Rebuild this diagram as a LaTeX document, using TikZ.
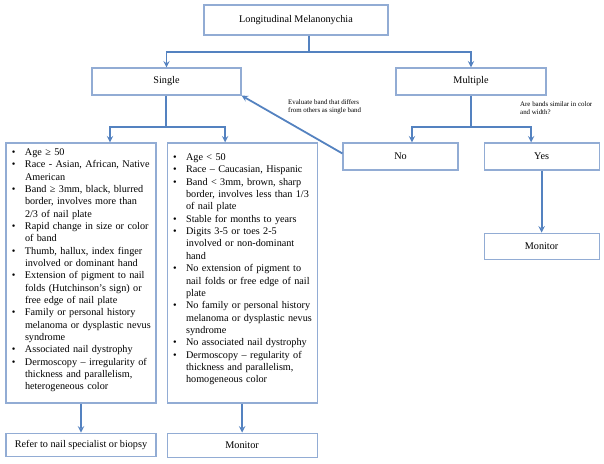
\documentclass[tikz,border=0pt]{standalone}
\usepackage{fontspec}
\setmainfont{Liberation Serif}
\usetikzlibrary{positioning, arrows}
\definecolor{boxline}{RGB}{146,172,212}
\definecolor{arrowline}{RGB}{84,130,192}
\tikzstyle{box} = [rectangle, draw=boxline, line width=1.1pt, text centered, inner sep=0pt, font=\fontsize{10.2}{12}\selectfont]
\tikzstyle{listbox} = [rectangle, draw=boxline, line width=1.1pt, text width=148pt, align=left, inner xsep=1pt, inner ysep=0pt, font=\fontsize{10.2}{12.35}\selectfont]
\tikzstyle{note} = [anchor=north west, align=left, inner sep=0pt, font=\fontsize{6.9}{8.3}\selectfont]
\tikzstyle{line} = [line width=1.8pt, draw=arrowline]
\tikzstyle{arrow} = [line width=1.8pt, draw=arrowline, ->, >=stealth]
\newcommand{\bul}[1]{\hangindent=18pt\hangafter=1\noindent\makebox[18pt][l]{\hspace{5pt}\textbullet}#1\par}

\begin{document}
\begin{tikzpicture}[x=1pt, y=-1pt]
    \useasboundingbox (0,0) rectangle (604,463);
    \node (title) [box, minimum width=184pt, minimum height=30pt] at (296,20) {Longitudinal Melanonychia};
    \node (single) [box, minimum width=149pt, minimum height=27pt] at (166.5,81.5) {Single};
    \node (multiple) [box, minimum width=150pt, minimum height=27pt] at (471,81.5) {Multiple};
    \node (high) [listbox, text height=12.3pt, text depth=247.7pt] at (81,273) {%
        \bul{Age ≥ 50}
        \bul{Race - Asian, African, Native\newline American}
        \bul{Band ≥ 3mm, black, blurred\newline border, involves more than\newline 2/3 of nail plate}
        \bul{Rapid change in size or color\newline of band}
        \bul{Thumb, hallux, index finger\newline involved or dominant hand}
        \bul{Extension of pigment to nail\newline folds (Hutchinson’s sign) or\newline free edge of nail plate}
        \bul{Family or personal history\newline melanoma or dysplastic nevus\newline syndrome}
        \bul{Associated nail dystrophy}
        \bul{Dermoscopy – irregularity of\newline thickness and parallelism,\newline heterogeneous color}};
    \node (low) [listbox, text height=17.5pt, text depth=242.5pt, right=10pt of high] {%
        \bul{Age < 50}
        \bul{Race – Caucasian, Hispanic}
        \bul{Band < 3mm, brown, sharp\newline border, involves less than 1/3\newline of nail plate}
        \bul{Stable for months to years}
        \bul{Digits 3-5 or toes 2-5\newline involved or non-dominant\newline hand}
        \bul{No extension of pigment to\newline nail folds or free edge of nail\newline plate}
        \bul{No family or personal history\newline melanoma or dysplastic nevus\newline syndrome}
        \bul{No associated nail dystrophy}
        \bul{Dermoscopy – regularity of\newline thickness and parallelism,\newline homogeneous color}};
    \node (no) [box, minimum width=115pt, minimum height=27pt] at (400.5,156.5) {No};
    \node (yes) [box, minimum width=115pt, minimum height=27pt, right=25pt of no] {Yes};
    \node (monitorr) [box, minimum width=115pt, minimum height=26pt, below=62pt of yes] {Monitor};
    \node (refer) [box, minimum width=150pt, minimum height=23pt, below=29pt of high] {Refer to nail specialist or biopsy};
    \node (monitorm) [box, minimum width=150pt, minimum height=24pt, below=29pt of low] {Monitor};
    \node (evalnote) [note] at (288,99.5) {Evaluate band that differs\\from others as single band};
    \node (simnote) [note] at (520,101.5) {Are bands similar in color\\and width?};

    % split points
    \coordinate (sp1) at (309,52);
    \coordinate (sp2) at (166,127);
    \coordinate (sp3) at (471,127);

    \draw [line] (title.south -| sp1) -- (sp1);
    \draw [arrow] (sp1) -| (single.north);
    \draw [arrow] (sp1) -| (multiple.north);
    \draw [line] (single.south -| sp2) -- (sp2);
    \draw [arrow] (sp2) -| ([xshift=29pt]high.north);
    \draw [arrow] (sp2) -| ([xshift=-17pt]low.north);
    \draw [line] (multiple.south) -- (sp3);
    \draw [arrow] (sp3) -| ([xshift=11.5pt]no.north);
    \draw [arrow] (sp3) -| ([xshift=-10.5pt]yes.north);
    \draw [arrow] (yes.south) -- (monitorr.north);
    \draw [arrow] (high.south) -- (refer.north);
    \draw [arrow] (low.south) -- (monitorm.north);
    \draw [arrow] ([yshift=3pt]no.west) -- (single.south east);
\end{tikzpicture}
\end{document}
